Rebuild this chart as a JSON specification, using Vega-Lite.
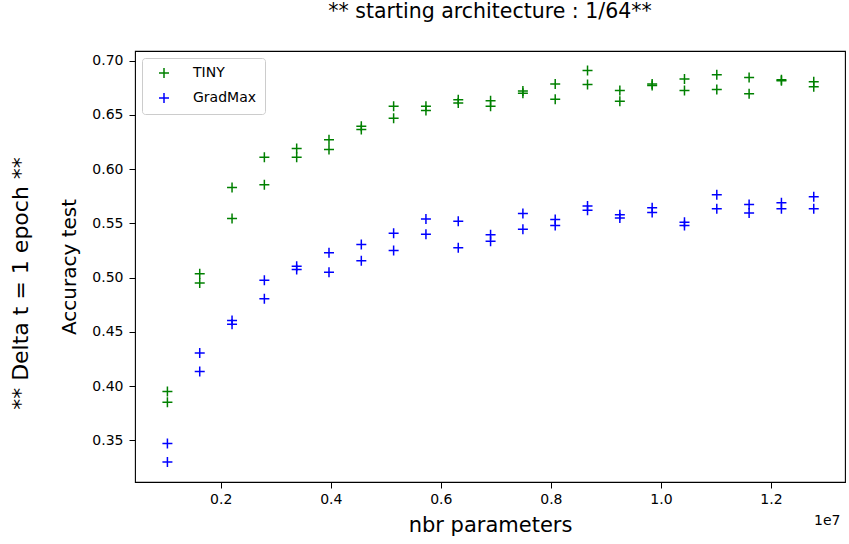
{
  "$schema": "https://vega.github.io/schema/vega-lite/v6.json",
  "width": 710,
  "height": 431,
  "autosize": {"type": "none"},
  "padding": {"left": 135, "top": 51, "right": 4, "bottom": 62},
  "background": "white",
  "title": {"text": "** starting architecture : 1/64**", "fontSize": 20.5, "fontWeight": "normal", "anchor": "middle", "offset": 29, "color": "#000000", "font": "DejaVu Sans"},
  "datasets": {
    "pts": [
      {"params": 1031000, "accuracy": 0.395, "method": "TINY"},
      {"params": 1031000, "accuracy": 0.385, "method": "TINY"},
      {"params": 1618300, "accuracy": 0.5035, "method": "TINY"},
      {"params": 1618300, "accuracy": 0.495, "method": "TINY"},
      {"params": 2205600, "accuracy": 0.583, "method": "TINY"},
      {"params": 2205600, "accuracy": 0.5545, "method": "TINY"},
      {"params": 2792900, "accuracy": 0.611, "method": "TINY"},
      {"params": 2792900, "accuracy": 0.5855, "method": "TINY"},
      {"params": 3380200, "accuracy": 0.619, "method": "TINY"},
      {"params": 3380200, "accuracy": 0.611, "method": "TINY"},
      {"params": 3967500, "accuracy": 0.627, "method": "TINY"},
      {"params": 3967500, "accuracy": 0.618, "method": "TINY"},
      {"params": 4554800, "accuracy": 0.6395, "method": "TINY"},
      {"params": 4554800, "accuracy": 0.6365, "method": "TINY"},
      {"params": 5142100, "accuracy": 0.658, "method": "TINY"},
      {"params": 5142100, "accuracy": 0.647, "method": "TINY"},
      {"params": 5729400, "accuracy": 0.658, "method": "TINY"},
      {"params": 5729400, "accuracy": 0.654, "method": "TINY"},
      {"params": 6316700, "accuracy": 0.664, "method": "TINY"},
      {"params": 6316700, "accuracy": 0.661, "method": "TINY"},
      {"params": 6904000, "accuracy": 0.663, "method": "TINY"},
      {"params": 6904000, "accuracy": 0.658, "method": "TINY"},
      {"params": 7491300, "accuracy": 0.672, "method": "TINY"},
      {"params": 7491300, "accuracy": 0.670, "method": "TINY"},
      {"params": 8078600, "accuracy": 0.6785, "method": "TINY"},
      {"params": 8078600, "accuracy": 0.6645, "method": "TINY"},
      {"params": 8665900, "accuracy": 0.691, "method": "TINY"},
      {"params": 8665900, "accuracy": 0.678, "method": "TINY"},
      {"params": 9253200, "accuracy": 0.6725, "method": "TINY"},
      {"params": 9253200, "accuracy": 0.6625, "method": "TINY"},
      {"params": 9840500, "accuracy": 0.6785, "method": "TINY"},
      {"params": 9840500, "accuracy": 0.677, "method": "TINY"},
      {"params": 10427800, "accuracy": 0.683, "method": "TINY"},
      {"params": 10427800, "accuracy": 0.6725, "method": "TINY"},
      {"params": 11015100, "accuracy": 0.687, "method": "TINY"},
      {"params": 11015100, "accuracy": 0.6735, "method": "TINY"},
      {"params": 11602400, "accuracy": 0.6845, "method": "TINY"},
      {"params": 11602400, "accuracy": 0.6695, "method": "TINY"},
      {"params": 12189700, "accuracy": 0.6825, "method": "TINY"},
      {"params": 12189700, "accuracy": 0.6815, "method": "TINY"},
      {"params": 12777000, "accuracy": 0.6805, "method": "TINY"},
      {"params": 12777000, "accuracy": 0.676, "method": "TINY"},
      {"params": 1031000, "accuracy": 0.347, "method": "GradMax"},
      {"params": 1031000, "accuracy": 0.330, "method": "GradMax"},
      {"params": 1618300, "accuracy": 0.4305, "method": "GradMax"},
      {"params": 1618300, "accuracy": 0.4135, "method": "GradMax"},
      {"params": 2205600, "accuracy": 0.4605, "method": "GradMax"},
      {"params": 2205600, "accuracy": 0.457, "method": "GradMax"},
      {"params": 2792900, "accuracy": 0.4975, "method": "GradMax"},
      {"params": 2792900, "accuracy": 0.4805, "method": "GradMax"},
      {"params": 3380200, "accuracy": 0.5105, "method": "GradMax"},
      {"params": 3380200, "accuracy": 0.5075, "method": "GradMax"},
      {"params": 3967500, "accuracy": 0.523, "method": "GradMax"},
      {"params": 3967500, "accuracy": 0.505, "method": "GradMax"},
      {"params": 4554800, "accuracy": 0.5305, "method": "GradMax"},
      {"params": 4554800, "accuracy": 0.5155, "method": "GradMax"},
      {"params": 5142100, "accuracy": 0.541, "method": "GradMax"},
      {"params": 5142100, "accuracy": 0.525, "method": "GradMax"},
      {"params": 5729400, "accuracy": 0.554, "method": "GradMax"},
      {"params": 5729400, "accuracy": 0.540, "method": "GradMax"},
      {"params": 6316700, "accuracy": 0.552, "method": "GradMax"},
      {"params": 6316700, "accuracy": 0.5275, "method": "GradMax"},
      {"params": 6904000, "accuracy": 0.5395, "method": "GradMax"},
      {"params": 6904000, "accuracy": 0.5335, "method": "GradMax"},
      {"params": 7491300, "accuracy": 0.559, "method": "GradMax"},
      {"params": 7491300, "accuracy": 0.5445, "method": "GradMax"},
      {"params": 8078600, "accuracy": 0.5535, "method": "GradMax"},
      {"params": 8078600, "accuracy": 0.548, "method": "GradMax"},
      {"params": 8665900, "accuracy": 0.566, "method": "GradMax"},
      {"params": 8665900, "accuracy": 0.562, "method": "GradMax"},
      {"params": 9253200, "accuracy": 0.558, "method": "GradMax"},
      {"params": 9253200, "accuracy": 0.555, "method": "GradMax"},
      {"params": 9840500, "accuracy": 0.5645, "method": "GradMax"},
      {"params": 9840500, "accuracy": 0.560, "method": "GradMax"},
      {"params": 10427800, "accuracy": 0.551, "method": "GradMax"},
      {"params": 10427800, "accuracy": 0.548, "method": "GradMax"},
      {"params": 11015100, "accuracy": 0.5765, "method": "GradMax"},
      {"params": 11015100, "accuracy": 0.5635, "method": "GradMax"},
      {"params": 11602400, "accuracy": 0.5675, "method": "GradMax"},
      {"params": 11602400, "accuracy": 0.5595, "method": "GradMax"},
      {"params": 12189700, "accuracy": 0.569, "method": "GradMax"},
      {"params": 12189700, "accuracy": 0.5635, "method": "GradMax"},
      {"params": 12777000, "accuracy": 0.5745, "method": "GradMax"},
      {"params": 12777000, "accuracy": 0.5635, "method": "GradMax"}
    ]
  },
  "data": {"name": "pts"},
  "layer": [
    {
      "mark": {"type": "point", "shape": "M-1,0L1,0M0,-1L0,1", "filled": false, "strokeWidth": 1.5, "size": 100, "opacity": 1},
      "encoding": {
        "x": {
          "field": "params", "type": "quantitative",
          "scale": {"domain": [442000, 13345000], "nice": false, "zero": false},
          "axis": {
            "values": [2000000, 4000000, 6000000, 8000000, 10000000, 12000000],
            "labelExpr": "format(datum.value / 10000000, '.1f')",
            "title": "nbr parameters",
            "titleFontSize": 21,
            "titlePadding": 8,
            "labelPadding": 4
          }
        },
        "y": {
          "field": "accuracy", "type": "quantitative",
          "scale": {"domain": [0.3116, 0.7089], "nice": false, "zero": false},
          "axis": {
            "values": [0.35, 0.4, 0.45, 0.5, 0.55, 0.6, 0.65, 0.7],
            "format": ".2f",
            "title": "Accuracy test",
            "titleFontSize": 20,
            "titlePadding": 12,
            "labelPadding": 6
          }
        },
        "color": {
          "field": "method", "type": "nominal",
          "scale": {"domain": ["TINY", "GradMax"], "range": ["#008000", "#0000ff"]},
          "legend": {
            "title": null,
            "orient": "top-left",
            "offset": 7,
            "labelFontSize": 14,
            "labelColor": "#000000",
            "symbolType": "M-1,0L1,0M0,-1L0,1",
            "symbolSize": 100,
            "symbolStrokeWidth": 1.5,
            "strokeColor": "#cccccc",
            "fillColor": "rgba(255,255,255,0.8)",
            "cornerRadius": 3,
            "padding": 8,
            "rowPadding": 9,
            "symbolOffset": 7,
            "labelOffset": 22
          }
        }
      }
    },
    {
      "mark": {"type": "point", "opacity": 0},
      "encoding": {
        "x": {
          "field": "params", "type": "quantitative",
          "scale": {"domain": [442000, 13345000], "nice": false, "zero": false},
          "axis": {"orient": "bottom", "labels": false, "ticks": false, "domain": false, "title": "1e7", "titleFontSize": 14, "titleFontWeight": "normal", "titleAlign": "right", "titleBaseline": "middle", "titleX": 705, "titleY": 38}
        },
        "y": {
          "field": "accuracy", "type": "quantitative",
          "scale": {"domain": [0.3116, 0.7089], "nice": false, "zero": false},
          "axis": {"orient": "left", "labels": false, "ticks": false, "domain": false, "title": "** Delta t = 1 epoch **", "titleFontSize": 22, "titleFontWeight": "normal", "titleBaseline": "middle", "titleX": -115, "titleY": 232}
        }
      }
    }
  ],
  "resolve": {"axis": {"x": "independent", "y": "independent"}},
  "config": {
    "font": "DejaVu Sans",
    "view": {"stroke": "#000000", "strokeWidth": 1.1},
    "axis": {
      "grid": false,
      "domain": false,
      "tickColor": "#000000",
      "tickSize": 6,
      "tickWidth": 1,
      "labelColor": "#000000",
      "labelFontSize": 14,
      "labelFont": "DejaVu Sans",
      "titleColor": "#000000",
      "titleFont": "DejaVu Sans",
      "titleFontWeight": "normal"
    },
    "legend": {"labelFont": "DejaVu Sans"}
  }
}
